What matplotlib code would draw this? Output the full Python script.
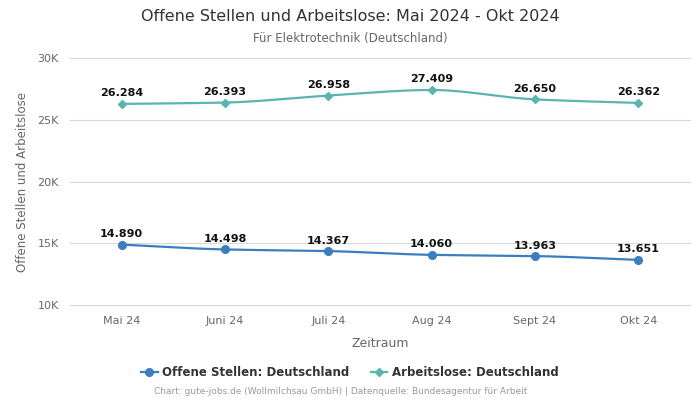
import numpy as np
import matplotlib
matplotlib.use('Agg')
import matplotlib.pyplot as plt

monate = ['Mai 24', 'Juni 24', 'Juli 24', 'Aug 24', 'Sept 24', 'Okt 24']
offene_stellen = [14890, 14498, 14367, 14060, 13963, 13651]
arbeitslose = [26284, 26393, 26958, 27409, 26650, 26362]

blau = '#3a7ebf'
tuerkis = '#5ab5ae'


def glatt(x, y, n=30):
    # monotone cubic hermite, just for drawing the smooth line
    x = np.asarray(x, float)
    y = np.asarray(y, float)
    h = np.diff(x)
    d = np.diff(y) / h
    m = np.zeros_like(y)
    m[0], m[-1] = d[0], d[-1]
    for i in range(1, len(y) - 1):
        if d[i - 1] * d[i] > 0:
            m[i] = 2 / (1 / d[i - 1] + 1 / d[i])
    xs, ys = [], []
    for i in range(len(h)):
        t = np.linspace(0, 1, n)
        h00 = 2 * t**3 - 3 * t**2 + 1
        h10 = t**3 - 2 * t**2 + t
        h01 = -2 * t**3 + 3 * t**2
        h11 = t**3 - t**2
        xs.append(x[i] + t * h[i])
        ys.append(h00 * y[i] + h10 * h[i] * m[i] + h01 * y[i + 1] + h11 * h[i] * m[i + 1])
    return np.concatenate(xs), np.concatenate(ys)


fig = plt.figure(figsize=(7, 4), dpi=100)
ax = fig.add_axes([0.1, 0.2375, 0.8857, 0.6175])

x = np.arange(len(monate))
for werte, farbe, marker, ms, name in [
        (offene_stellen, blau, 'o', 5.5, 'Offene Stellen: Deutschland'),
        (arbeitslose, tuerkis, 'D', 4, 'Arbeitslose: Deutschland')]:
    xs, ys = glatt(x, werte)
    ax.plot(xs, ys, color=farbe, lw=1.6, zorder=3)
    ax.plot(x, werte, ls='none', marker=marker, ms=ms, color=farbe, zorder=4)
    ax.plot([], [], color=farbe, lw=1.6, marker=marker, ms=ms, label=name)
    for xi, v in zip(x, werte):
        ax.annotate(f'{v/1000:.3f}', (xi, v), xytext=(0, 4), textcoords='offset points',
                    ha='center', va='bottom', fontsize=8, fontweight='bold', color='#111111')

ax.set_xlim(-0.5, len(monate) - 0.5)
ax.set_ylim(10000, 30000)
ax.set_yticks([10000, 15000, 20000, 25000, 30000])
ax.set_yticklabels(['10K', '15K', '20K', '25K', '30K'])
ax.set_xticks(x)
ax.set_xticklabels(monate)
ax.tick_params(axis='both', length=0, labelsize=8, colors='#666666', pad=8)
ax.grid(axis='y', color='#d8d8d8', lw=0.8)
for gl in ax.get_ygridlines():
    gl.set_clip_on(False)
ax.set_axisbelow(True)
for s in ax.spines.values():
    s.set_visible(False)

ax.set_xlabel('Zeitraum', fontsize=9, color='#666666', labelpad=8)
ax.set_ylabel('Offene Stellen und Arbeitslose', fontsize=8.5, color='#666666', labelpad=6)

fig.text(0.5, 0.958, 'Offene Stellen und Arbeitslose: Mai 2024 - Okt 2024', ha='center', va='center',
         fontsize=11.5, color='#333333')
fig.text(0.5, 0.903, 'Für Elektrotechnik (Deutschland)', ha='center', va='center',
         fontsize=8.5, color='#666666')

leg = fig.legend(loc='center', bbox_to_anchor=(0.5, 0.0675), ncol=2, frameon=False,
                 fontsize=8.5, handlelength=1.4, columnspacing=1.8, handletextpad=0.4)
for t in leg.get_texts():
    t.set_fontweight('bold')
    t.set_color('#333333')

fig.text(0.486, 0.02, 'Chart: gute-jobs.de (Wollmilchsau GmbH) | Datenquelle: Bundesagentur für Arbeit',
         ha='center', va='center', fontsize=6.5, color='#999999')

fig.savefig('out.png', dpi=100)
